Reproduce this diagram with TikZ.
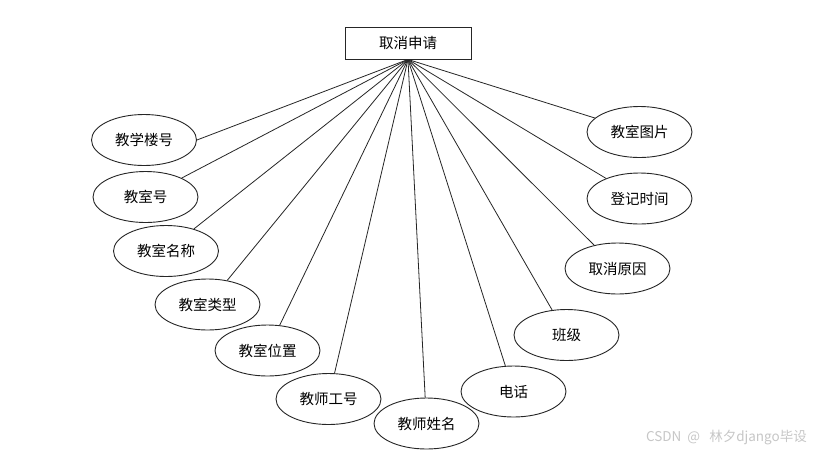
\documentclass[tikz,border=0pt]{standalone}
\usepackage{fontspec}
\newfontfamily\cjk{Noto Sans CJK SC}
\usetikzlibrary{shapes.geometric}
\begin{document}
\begin{tikzpicture}[x=1pt,y=-1pt,
  attr/.style={draw=black!85,line width=0.9pt,ellipse,minimum width=105pt,minimum height=51pt,inner sep=0pt,font=\cjk\fontsize{14.5}{17}\selectfont},
  ent/.style={draw=black!85,line width=0.9pt,rectangle,minimum width=126pt,minimum height=32pt,inner sep=0pt,font=\cjk\fontsize{14.5}{17}\selectfont},
  conn/.style={draw=black!85,line width=0.8pt}]
\useasboundingbox (0,0) rectangle (825,456);
\fill[white] (0,0) rectangle (825,456);
\node[ent] (root) at (408,43) {取消申请};
\node[attr] (a1) at (144,140) {教学楼号};
\node[attr] (a2) at (145.5,197) {教室号};
\node[attr] (a3) at (166,251) {教室名称};
\node[attr] (a4) at (207.5,304.5) {教室类型};
\node[attr] (a5) at (267.5,350.5) {教室位置};
\node[attr] (a6) at (328.5,399) {教师工号};
\node[attr] (a7) at (426.5,423.5) {教师姓名};
\node[attr] (a8) at (513.5,391.5) {电话};
\node[attr] (a9) at (566.5,335) {班级};
\node[attr] (a10) at (617.5,268.5) {取消原因};
\node[attr] (a11) at (639.5,198.5) {登记时间};
\node[attr] (a12) at (639.5,132) {教室图片};
\draw[conn] (root.south) -- (a1.east);
\foreach \n in {a2,a3,a4,a5,a6,a7,a8,a9,a10,a11,a12}
  \draw[conn] (root.south) -- (\n);
\node[text=black!22,font=\cjk\fontsize{13.5}{15}\selectfont,anchor=east,inner sep=0pt] (wm) at (807,438) {CSDN\ \ @\ \ \ 林夕django毕设};
\end{tikzpicture}
\end{document}
